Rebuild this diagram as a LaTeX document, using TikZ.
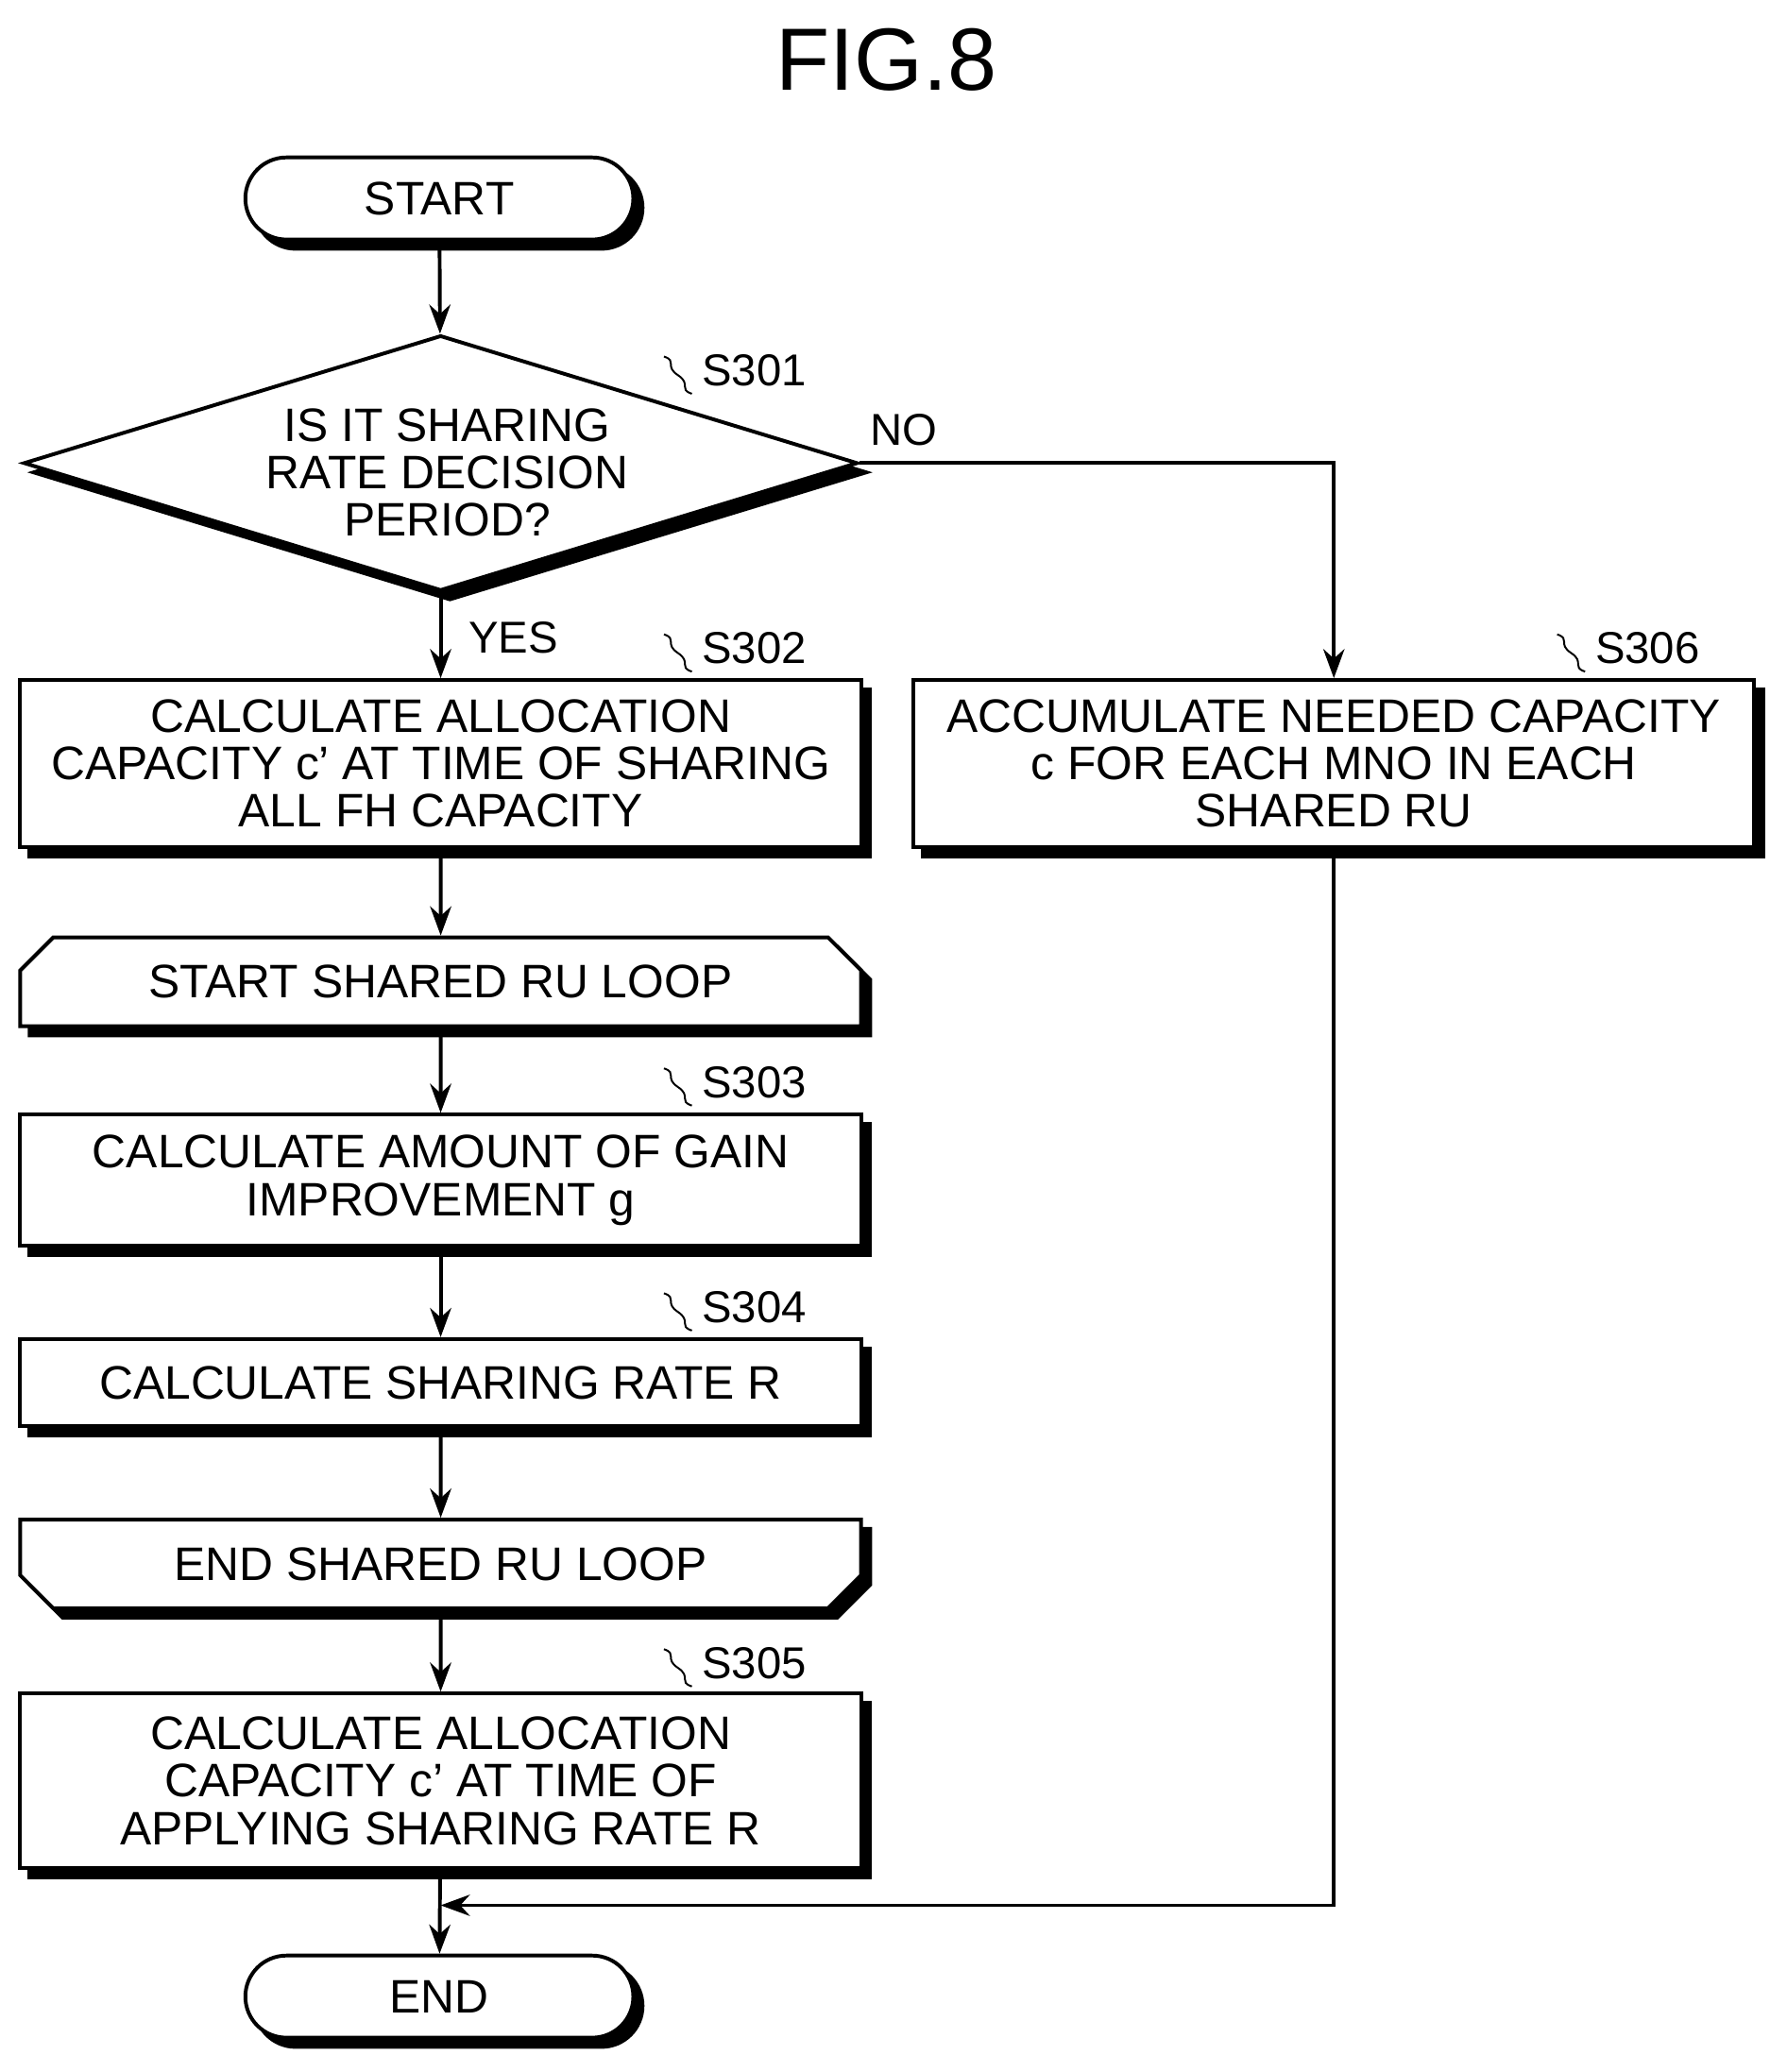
\documentclass[tikz,border=0pt]{standalone}
\usepackage{fontspec}
\setmainfont{Liberation Sans}
\usetikzlibrary{shapes.geometric,shapes.misc,shadows,arrows.meta}

\tikzset{
  box/.style = {draw, thick, fill=white, align=center, inner sep=0pt,
    font=\fontsize{10.1}{10.2}\selectfont,
    copy shadow={fill=black, draw=black, shadow xshift=0.07cm, shadow yshift=-0.07cm}},
  proc/.style = {box, rectangle, minimum width=6.35cm},
  term/.style = {box, rounded rectangle, minimum width=2.93cm, minimum height=0.62cm},
  dec/.style = {box, diamond, aspect=3.26, minimum width=6.3cm, minimum height=1.93cm},
  loopa/.style = {box, chamfered rectangle, chamfered rectangle xsep=0.2cm,
    chamfered rectangle corners={north west,north east}, minimum width=6.35cm, minimum height=0.67cm},
  loopb/.style = {loopa, chamfered rectangle corners={south west,south east}},
  steplbl/.style = {font=\fontsize{9.6}{10}\selectfont, inner sep=1pt},
  arr/.style = {thick, -{Stealth[length=2.2mm,width=1.6mm]}}
}
\newcommand{\squig}[1]{\draw[thin] ([xshift=-1pt,yshift=-5pt]#1.west) .. controls +(-3pt,1pt) and +(3pt,-2pt) .. ++(-3pt,4pt) .. controls +(-3pt,2pt) and +(3pt,-1pt) .. ++(-3pt,4pt);}

\begin{document}
\begin{tikzpicture}[x=0.01cm, y=-0.01cm]
  \useasboundingbox (0,0) rectangle (1350,1566);
  \node[font=\fontsize{19}{22}\selectfont] (title) at (670,45) {FIG.8};

  \node[term] (start) at (332,150) {START};
  \node[dec] (s301) at (333,350) {};
  \node[align=center, font=\fontsize{10.1}{10.2}\selectfont] (s301txt) at (338,357) {IS IT SHARING\\RATE DECISION\\PERIOD?};
  \node[proc, minimum height=1.26cm] (s302) at (333,577) {CALCULATE ALLOCATION\\CAPACITY c' AT TIME OF SHARING\\ALL FH CAPACITY};
  \node[proc, minimum height=1.26cm] (s306) at (1008,577) {ACCUMULATE NEEDED CAPACITY\\c FOR EACH MNO IN EACH\\SHARED RU};
  \node[loopa] (loopst) at (333,742) {START SHARED RU LOOP};
  \node[proc, minimum height=0.99cm] (s303) at (333,892) {CALCULATE AMOUNT OF GAIN\\IMPROVEMENT g};
  \node[proc, minimum height=0.66cm] (s304) at (333,1045) {CALCULATE SHARING RATE R};
  \node[loopb] (loopen) at (333,1182) {END SHARED RU LOOP};
  \node[proc, minimum height=1.32cm] (s305) at (333,1346) {CALCULATE ALLOCATION\\CAPACITY c' AT TIME OF\\APPLYING SHARING RATE R};
  \node[term] (end) at (332,1509) {END};

  % step labels
  \node[steplbl] (l301) at (570,280) {S301}; \squig{l301}
  \node[steplbl] (l302) at (570,490) {S302}; \squig{l302}
  \node[steplbl] (l306) at (1245,490) {S306}; \squig{l306}
  \node[steplbl] (l303) at (570,818) {S303}; \squig{l303}
  \node[steplbl] (l304) at (570,988) {S304}; \squig{l304}
  \node[steplbl] (l305) at (570,1257) {S305}; \squig{l305}

  \node[steplbl] (no) at (683,325) {NO};
  \node[steplbl] (yes) at (388,482) {YES};
  \coordinate (join) at (333,1440);

  \draw[arr] (start) -- (s301);
  \draw[arr] (s301) -- (s302);
  \draw[arr] (s301.east) -| (s306.north);
  \draw[arr] (s302) -- (loopst);
  \draw[arr] (loopst) -- (s303);
  \draw[arr] (s303) -- (s304);
  \draw[arr] (s304) -- (loopen);
  \draw[arr] (loopen) -- (s305);
  \draw[arr] (s305) -- (end);
  \draw[arr] (s306.south) |- (join);
\end{tikzpicture}
\end{document}
